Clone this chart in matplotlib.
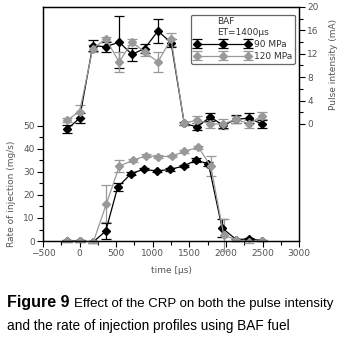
import matplotlib
matplotlib.use('Agg')
import matplotlib.pyplot as plt
from matplotlib.ticker import MultipleLocator, FixedLocator

# pulse intensity (right axis, mA)
t_pulse = [-170, 0, 180, 360, 540, 715, 890, 1070, 1250, 1430, 1605, 1785, 1960, 2140, 2320, 2490]
pulse_90 = [-0.9, 1.0, 13.4, 13.2, 14.0, 11.9, 12.9, 15.9, 13.9, 0.1, -0.5, 1.2, -0.2, 0.8, 1.0, 0.0]
pulse_90_err = [0.7, 0.9, 1.0, 0.9, 4.5, 1.1, 0.8, 2.1, 0.7, 0.3, 0.6, 0.65, 0.4, 0.7, 0.8, 0.7]
pulse_120 = [0.7, 2.1, 12.9, 14.5, 10.6, 14.0, 12.3, 10.6, 14.5, 0.1, 0.7, 0.0, 0.0, 0.8, 0.0, 1.4]
pulse_120_err = [0.4, 1.1, 0.6, 0.35, 1.75, 0.45, 0.6, 1.75, 1.1, 0.3, 0.6, 0.7, 0.8, 0.6, 0.7, 0.6]

# rate of injection (left axis, mg/s)
t_inj_90 = [-175, 0, 186, 357, 520, 705, 876, 1052, 1237, 1420, 1594, 1761, 1947, 2141, 2317, 2488]
inj_90 = [0, 0, -0.4, 4.3, 23.4, 29.3, 31.2, 30.4, 31.1, 32.6, 35.1, 33.5, 5.7, 0.6, 0.9, 0.2]
inj_90_err = [0.3, 0.3, 0.3, 3.6, 1.7, 0.5, 0.5, 0.5, 0.5, 0.5, 0.8, 1.0, 4.0, 0.4, 0.4, 0.3]
t_inj_120 = [-175, 0, 186, 367, 542, 728, 904, 1076, 1261, 1432, 1622, 1793, 1970, 2141, 2317, 2488]
inj_120 = [0, 0, -0.5, 16.2, 32.5, 35.1, 37.0, 36.6, 36.9, 38.9, 40.8, 32.5, 2.5, 0.6, -0.35, 0.2]
inj_120_err = [0.3, 0.3, 0.3, 8.1, 2.7, 0.6, 0.6, 0.6, 0.6, 0.6, 0.6, 4.3, 7.0, 0.4, 0.6, 0.3]

black = '#000000'
grey = '#999999'
tick_col = '#555555'

fig = plt.figure(figsize=(3.47, 3.44), dpi=100)
ax = fig.add_axes([0.124, 0.2994, 0.738, 0.6803])
ax2 = ax.twinx()

style = dict(marker='D', markersize=3.8, linewidth=0.9, elinewidth=0.9, capsize=3.5, capthick=0.9)
for t, y, e, c in [(t_inj_90, inj_90, inj_90_err, black), (t_inj_120, inj_120, inj_120_err, grey)]:
    eb = ax.errorbar(t, y, yerr=e, color=c, ecolor=c, **style)
    for art in eb.lines[1] + eb.lines[2]:
        art.set_clip_on(False)

h90 = ax2.errorbar(t_pulse, pulse_90, yerr=pulse_90_err, color=black, ecolor=black, label='90 MPa', **style)
h120 = ax2.errorbar(t_pulse, pulse_120, yerr=pulse_120_err, color=grey, ecolor=grey, label='120 MPa', **style)

ax.set_xlim(-500, 3000)
ax.set_ylim(0, 101.7)
ax2.set_ylim(-20, 20)

ax.xaxis.set_major_locator(MultipleLocator(500))
ax.xaxis.set_minor_locator(MultipleLocator(250))
ax.yaxis.set_major_locator(FixedLocator([0, 10, 20, 30, 40, 50]))
ax.yaxis.set_minor_locator(FixedLocator([5, 15, 25, 35, 45]))
ax2.yaxis.set_major_locator(FixedLocator([0, 4, 8, 12, 16, 20]))
ax2.yaxis.set_minor_locator(FixedLocator([2, 6, 10, 14, 18]))

for a in (ax, ax2):
    a.tick_params(which='major', direction='out', length=4, width=0.8, labelsize=6.5, labelcolor=tick_col, pad=2)
    a.tick_params(which='minor', direction='out', length=3, width=0.8)
    for s in a.spines.values():
        s.set_linewidth(0.9)

ax.set_xlabel('time [\u00b5s)', fontsize=6.5, color=tick_col, labelpad=0)
ax.xaxis.set_label_coords(0.5, -0.105)
ax.set_ylabel('Rate of injection (mg/s)', fontsize=6.5, color=tick_col)
ax.yaxis.set_label_coords(-0.105, 0.2)
ax2.set_ylabel('Pulse intensity (mA)', fontsize=6.5, color=tick_col)
ax2.yaxis.set_label_coords(1.115, 0.755)

leg = ax2.legend(handles=[h90, h120], title='BAF\nET=1400\u00b5s', loc='upper right',
                 bbox_to_anchor=(0.99, 0.975), numpoints=3, handlelength=6.3,
                 fontsize=6.5, title_fontsize=6.5, fancybox=True, framealpha=1,
                 edgecolor='#666666', borderpad=0.3, labelspacing=0.35, handletextpad=0.3,
                 borderaxespad=0.2)
leg.get_frame().set_linewidth(0.9)
for txt in leg.get_texts():
    txt.set_color('#333333')
leg.get_title().set_color('#333333')

cap_font = ['Liberation Sans', 'DejaVu Sans']
fig.text(0.02, 0.109, 'Figure 9', fontsize=11.5, fontweight='bold', family=cap_font)
fig.text(0.212, 0.109, 'Effect of the CRP on both the pulse intensity', fontsize=9.5, family=cap_font)
fig.text(0.02, 0.041, 'and the rate of injection profiles using BAF fuel', fontsize=9.8, family=cap_font)

fig.savefig('out.png', dpi=100)
